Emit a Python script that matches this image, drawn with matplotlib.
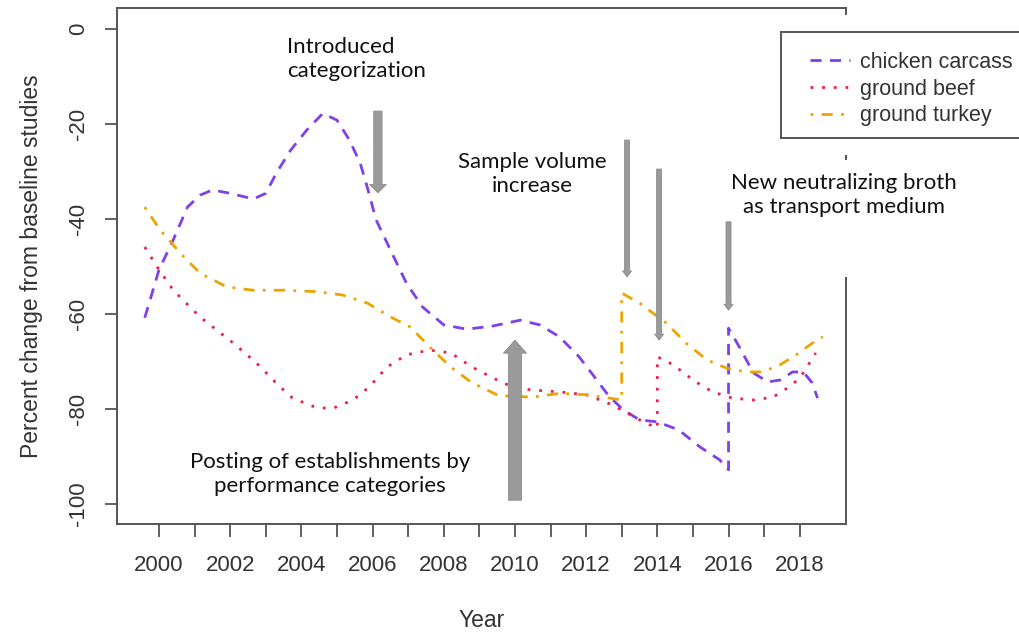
import matplotlib
matplotlib.use("Agg")
import matplotlib.pyplot as plt
from matplotlib.patches import Rectangle
from matplotlib.lines import Line2D

# values
chicken_years = [1999.6, 2000.0, 2000.4, 2000.8, 2001.15, 2001.5, 2002.0, 2002.65, 2003.0,
                 2003.3, 2003.7, 2004.15, 2004.6, 2005.0, 2005.35, 2005.65, 2005.85, 2006.1,
                 2006.5, 2006.95, 2007.4, 2008.0, 2008.65, 2009.4, 2010.15, 2010.7, 2011.25,
                 2011.8, 2012.3, 2012.65, 2013.05, 2013.5, 2014.0, 2014.6, 2015.2, 2015.75,
                 2016.0, 2016.0, 2016.3, 2016.7, 2017.1, 2017.45, 2017.8, 2018.1, 2018.35,
                 2018.5]
chicken_vals = [-60.8, -50.7, -44.4, -37.5, -35.0, -33.9, -34.6, -35.8, -34.6,
                -30.3, -25.5, -21.3, -17.8, -19.2, -23.4, -28.2, -33.3, -40.2,
                -46.5, -53.5, -58.5, -62.3, -63.2, -62.5, -61.3, -62.3, -64.8,
                -69.0, -73.9, -77.4, -80.2, -82.3, -82.7, -84.4, -88.0, -90.7,
                -92.8, -63.0, -66.9, -72.4, -74.3, -73.9, -72.2, -72.2, -74.5,
                -77.7]

beef_years = [1999.6, 1999.95, 2000.4, 2001.15, 2002.1, 2002.75, 2003.3, 2003.75, 2004.45,
              2004.9, 2005.45, 2005.9, 2006.4, 2006.95, 2007.6, 2008.2, 2008.8, 2009.5,
              2010.0, 2010.5, 2011.25, 2012.0, 2012.6, 2013.15, 2013.6, 2014.0, 2014.0,
              2014.45, 2015.0, 2015.55, 2016.1, 2016.7, 2017.25, 2017.8, 2018.1, 2018.45]
beef_vals = [-45.9, -50.1, -55.0, -60.6, -66.2, -70.4, -74.6, -77.7, -79.8,
             -79.8, -78.1, -75.4, -71.2, -68.6, -67.6, -68.2, -71.2, -73.9,
             -75.6, -76.0, -76.4, -77.0, -78.7, -80.8, -82.7, -84.0, -69.0,
             -70.7, -73.9, -76.4, -77.7, -78.1, -77.5, -74.9, -72.4, -68.2]

turkey_years = [1999.6, 2000.03, 2000.6, 2001.15, 2001.9, 2002.65, 2003.5, 2004.45, 2005.15,
                2005.85, 2006.5, 2007.05, 2007.6, 2008.2, 2008.8, 2009.55, 2010.5, 2011.25,
                2012.0, 2012.65, 2013.0, 2013.0, 2013.5, 2014.25, 2014.8, 2015.4, 2015.95,
                2016.5, 2016.95, 2017.45, 2017.9, 2018.4, 2018.65]
turkey_vals = [-37.5, -42.3, -47.2, -51.4, -54.3, -55.0, -55.0, -55.3, -56.0,
               -57.7, -60.6, -62.7, -66.9, -71.2, -74.5, -77.2, -77.5, -76.7,
               -77.0, -77.7, -78.1, -55.6, -57.7, -61.9, -66.1, -69.7, -71.4,
               -72.2, -72.2, -70.7, -68.6, -65.9, -64.8]

series_labels = ["chicken carcass", "ground beef", "ground turkey"]
xticks = list(range(2000, 2019))
xticklabels = [str(y) if y % 2 == 0 else "" for y in xticks]
yticks = [0, -20, -40, -60, -80, -100]

colors = ["#8040e8", "#e8204a", "#eba500"]
styles = [(0, (4, 3)), (0, (1, 3.2)), (0, (1, 3, 4, 3))]

AX_FONT = "Liberation Sans"
NOTE_FONT = "Lato"

fig = plt.figure(figsize=(10.2, 6.33), dpi=100)
ax = fig.add_axes([117 / 1020, 1 - 524 / 633, 729 / 1020, 516 / 633])

for xs, ys, c, ls in zip([chicken_years, beef_years, turkey_years],
                         [chicken_vals, beef_vals, turkey_vals], colors, styles):
    ax.plot(xs, ys, color=c, linestyle=ls, linewidth=2.0, zorder=3)

ax.set_xlim(1998.82, 2019.3)
ax.set_ylim(-104.2, 4.4)
ax.set_xticks(xticks)
ax.set_xticklabels(xticklabels, fontfamily=AX_FONT, fontsize=16, color="#333333")
ax.set_yticks(yticks)
ax.set_yticklabels([str(v) for v in yticks], fontfamily=AX_FONT, fontsize=16,
                   color="#333333", rotation=90, va="center")
ax.tick_params(axis="x", length=9, width=1.3, color="#555555", pad=13)
ax.tick_params(axis="y", length=9, width=1.3, color="#555555", pad=11)
for sp in ax.spines.values():
    sp.set_color("#555555")
    sp.set_linewidth(1.4)

ax.set_xlabel("Year", fontfamily=AX_FONT, fontsize=16.5, color="#333333", labelpad=24)
ax.set_ylabel("Percent change from baseline studies", fontfamily=AX_FONT, fontsize=16.5,
              color="#333333", labelpad=18)

# gray annotation arrows: (x, tail y, head y, tail width, head width, head length) in pt
arrows = [
    (2006.15, -17.3, -34.5, 6.0, 12.0, 6.0),
    (2013.15, -23.4, -52.2, 3.6, 6.5, 4.3),
    (2014.05, -29.5, -65.5, 3.6, 6.5, 4.3),
    (2016.0, -40.6, -59.2, 3.6, 6.5, 4.3),
    (2010.0, -99.2, -65.5, 9.4, 16.6, 9.4),
]
for x, y0, y1, tw, hw, hl in arrows:
    ax.annotate("", xy=(x, y1), xytext=(x, y0),
                arrowprops=dict(arrowstyle=f"simple,head_width={hw},head_length={hl},tail_width={tw}",
                                mutation_scale=1, shrinkA=0, shrinkB=0,
                                facecolor="#9a9a9a", edgecolor="#8c8c8c", linewidth=0.6),
                zorder=4)

note_kw = dict(fontfamily=NOTE_FONT, fontsize=16, color="#111111", linespacing=1.25)
fig.text(287 / 1020, 1 - 59 / 633, "Introduced\ncategorization", ha="left", va="center", **note_kw)
fig.text(532 / 1020, 1 - 174 / 633, "Sample volume\nincrease", ha="center", va="center", **note_kw)
fig.text(330 / 1020, 1 - 474 / 633, "Posting of establishments by\nperformance categories",
         ha="center", va="center", **note_kw)

# white patches hiding parts of the right border, as in the source image
for yt, yb in [(15, 155), (160, 277)]:
    fig.patches.append(Rectangle((838 / 1020, 1 - yb / 633), 16 / 1020, (yb - yt) / 633,
                                 transform=fig.transFigure, facecolor="white",
                                 edgecolor="none", zorder=5))
fig.text(844 / 1020, 1 - 195 / 633, "New neutralizing broth\nas transport medium",
         ha="center", va="center", zorder=6, **note_kw)

# legend box runs off the right edge of the figure
fig.patches.append(Rectangle((781 / 1020, 1 - 138 / 633), 260 / 1020, 106 / 633,
                             transform=fig.transFigure, facecolor="white",
                             edgecolor="#555555", linewidth=1.4, zorder=5))
handles = [Line2D([], [], color=c, linestyle=ls, linewidth=2.0) for c, ls in zip(colors, styles)]
leg = fig.legend(handles, series_labels, loc="upper left", bbox_to_anchor=(799 / 1020, 1 - 41 / 633),
                 frameon=False, prop={"family": AX_FONT, "size": 15.5}, handlelength=1.85,
                 handletextpad=0.5, labelspacing=0.27, borderpad=0)
for t in leg.get_texts():
    t.set_color("#333333")
leg.set_zorder(6)

fig.savefig("out.png", dpi=100, facecolor="white")
